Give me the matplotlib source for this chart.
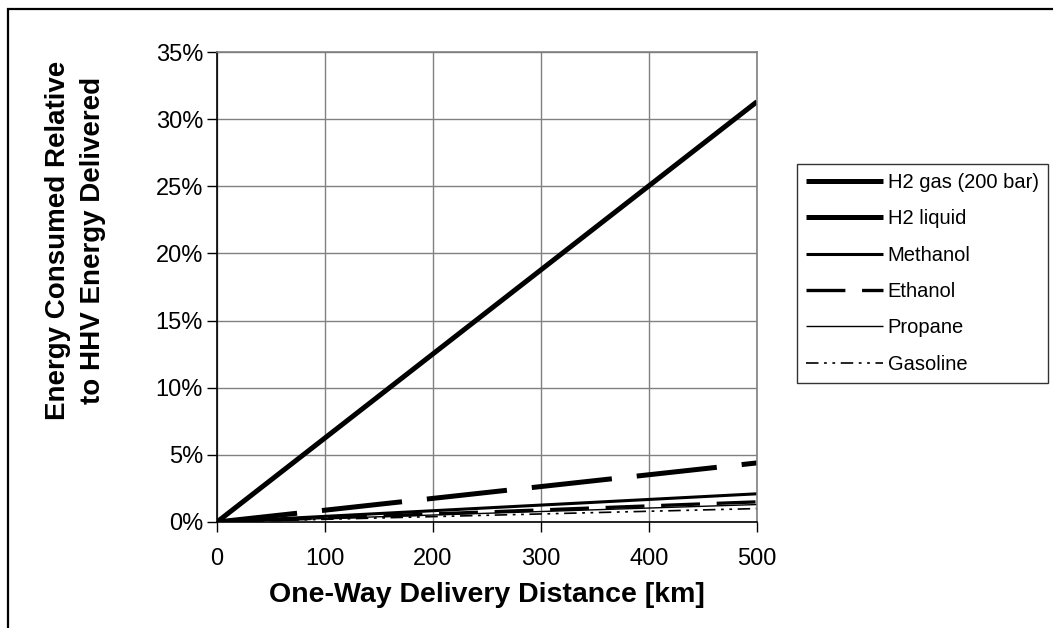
import matplotlib
matplotlib.use("Agg")
import matplotlib.pyplot as plt
from matplotlib.patches import Rectangle
from matplotlib.ticker import FuncFormatter

plt.rcParams['font.family'] = ['Liberation Sans', 'DejaVu Sans']
plt.rcParams['lines.scale_dashes'] = False

# Data
distance_km = [0, 500]
series_names = ["H2 gas (200 bar)", "H2 liquid", "Methanol", "Ethanol", "Propane", "Gasoline"]
h2_gas = [0.0, 0.313]
h2_liquid = [0.0, 0.044]
methanol = [0.0, 0.021]
ethanol = [0.0, 0.015]
propane = [0.0, 0.013]
gasoline = [0.0, 0.010]
series_values = [h2_gas, h2_liquid, methanol, ethanol, propane, gasoline]
x_ticks = [0, 100, 200, 300, 400, 500]
y_ticks = [0, 0.05, 0.10, 0.15, 0.20, 0.25, 0.30, 0.35]

styles = [
    dict(lw=3.6, ls='-'),
    dict(lw=3.6, ls=(0, (58, 18))),
    dict(lw=2.2, ls='-'),
    dict(lw=2.4, ls=(0, (28, 12))),
    dict(lw=1.0, ls='-'),
    dict(lw=1.2, ls=(0, (9, 4, 2, 4, 2, 4))),
]

W, H = 1053, 628
fig = plt.figure(figsize=(W / 100, H / 100), dpi=100)
fig.patch.set_facecolor('white')

# outer chart frame
fig.patches.append(Rectangle((8 / W, -0.1), 1.2, 1 - 9 / H + 0.1, transform=fig.transFigure,
                             fill=False, edgecolor='black', lw=1.6, clip_on=False))

left, right, top, bottom = 217, 757, 52, 522
ax = fig.add_axes([left / W, 1 - bottom / H, (right - left) / W, (bottom - top) / H])

for name, vals, st in zip(series_names, series_values, styles):
    ax.plot(distance_km, vals, color='black', label=name, solid_capstyle='butt',
            dash_capstyle='butt', **st)

ax.set_xlim(0, 500)
ax.set_ylim(0, 0.35)
ax.set_xticks(x_ticks)
ax.set_yticks(y_ticks)
ax.yaxis.set_major_formatter(FuncFormatter(lambda v, p: f"{v*100:.0f}%"))
ax.grid(True, color='#808080', lw=1.0)
ax.set_axisbelow(True)
for s in ['top', 'right']:
    ax.spines[s].set_color('#808080')
    ax.spines[s].set_linewidth(1.2)
for s in ['left', 'bottom']:
    ax.spines[s].set_color('black')
    ax.spines[s].set_linewidth(1.2)
ax.tick_params(axis='both', direction='out', length=7, width=1, labelsize=17)
ax.tick_params(axis='x', pad=12)
ax.tick_params(axis='y', pad=3)

ax.set_xlabel("One-Way Delivery Distance [km]", fontsize=20.5, fontweight='bold', labelpad=8)
ax.set_ylabel("Energy Consumed Relative\nto HHV Energy Delivered", fontsize=20,
              fontweight='bold', linespacing=1.45)
ax.yaxis.set_label_coords((106 - left) / (right - left), 0.60)

leg = ax.legend(loc='upper left', bbox_to_anchor=(797 / W, 1 - 164 / H),
                bbox_transform=fig.transFigure, fontsize=14.5, frameon=True,
                fancybox=False, shadow=False, handlelength=3.8, handletextpad=0.25,
                labelspacing=0.86, borderpad=0.45, borderaxespad=0)
leg.get_frame().set_edgecolor('black')
leg.get_frame().set_linewidth(1.0)

fig.savefig("out.png", dpi=100, facecolor='white')
